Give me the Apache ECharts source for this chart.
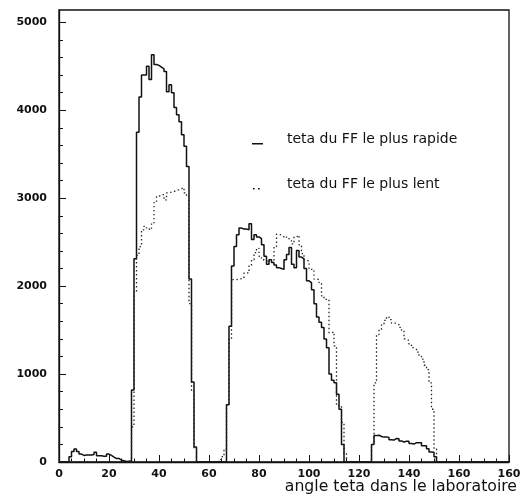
<!DOCTYPE html>
<html>
<head>
<meta charset="utf-8">
<script src="https://cdn.jsdelivr.net/npm/echarts@6/dist/echarts.min.js"></script>
<style>html,body{margin:0;padding:0;background:#fff}#c{width:526px;height:497px}</style>
</head>
<body>
<div id="c"></div>
<script>
// Histogram bins: 1 degree wide, bin i covers [i, i+1)
const binWidth = 1;
// "teta du FF le plus rapide" (solid)
const fastCounts = [
  0,0,0,0,60,120,147,120,90,75, 80,80,80,85,110,70,70,65,65,90,
  75,55,40,40,20,15,5,10,15,820, 2310,3750,4150,4400,4400,4500,4350,4630,4520,4510,
  4490,4470,4440,4210,4290,4200,4030,3950,3870,3720, 3590,3360,2080,910,170,0,0,0,0,0,
  0,0,0,0,0,0,0,650,1545,2230, 2450,2585,2660,2650,2650,2640,2710,2530,2585,2560,
  2540,2470,2340,2250,2300,2270,2240,2210,2200,2190, 2300,2360,2440,2250,2210,2405,2330,2310,2200,2060,
  2040,1960,1800,1650,1590,1530,1400,1300,1000,930, 900,770,600,200,0,0,0,0,0,0,
  0,0,0,0,0,200,300,305,290,283, 283,280,253,250,268,265,240,227,236,236,
  210,204,220,218,220,185,185,150,113,110, 60,0,0,0,0,0,0,0,0,0,
  0,0,0,0,0,0,0,0,0,0, 0,0,0,0,0,0,0,0,0,0
];
// "teta du FF le plus lent" (dotted)
const slowCounts = [
  0,0,0,0,0,0,0,0,0,0, 0,0,0,0,0,0,0,0,0,0,
  0,0,0,0,0,0,0,0,0,400, 1930,2350,2450,2640,2680,2650,2640,2720,2950,3020,
  3040,3040,2980,3060,3070,3075,3090,3095,3110,3120, 3060,3020,1800,800,150,0,0,0,0,0,
  0,0,0,0,30,60,150,650,1400,2075, 2075,2080,2085,2090,2150,2150,2230,2300,2380,2430,
  2340,2300,2280,2300,2270,2280,2450,2590,2580,2560, 2570,2540,2530,2480,2560,2580,2470,2370,2300,2280,
  2190,2190,2080,2075,2040,1890,1850,1850,1470,1480, 1320,640,640,450,100,0,0,0,0,0,
  0,0,0,0,0,200,900,1450,1500,1560, 1610,1650,1620,1580,1580,1560,1530,1500,1400,1380,
  1330,1300,1280,1250,1200,1170,1100,1050,900,600, 150,0,0,0,0,0,0,0,0,0,
  0,0,0,0,0,0,0,0,0,0, 0,0,0,0,0,0,0,0,0,0
];
const seriesNames = ['teta du FF le plus rapide', 'teta du FF le plus lent'];
const xTitle = 'angle teta dans le laboratoire';
const yMajorTicks = [0, 1000, 2000, 3000, 4000, 5000];
const yMinorTicks = [200,400,600,800,1200,1400,1600,1800,2200,2400,2600,2800,3200,3400,3600,3800,4200,4400,4600,4800];
const xLabelText = {180: '160'}; // last label as printed in the original

function toSteps(counts) {
  const pts = counts.map((v, i) => [i * binWidth, v]);
  pts.push([counts.length * binWidth, 0]);
  return pts;
}

const ink = '#111';
const tickFont = {fontFamily: 'DejaVu Sans', fontWeight: 'bold', fontSize: 11, color: ink};

const chart = echarts.init(document.getElementById('c'), null, {renderer: 'canvas'});
chart.setOption({
  animation: false,
  backgroundColor: '#fff',
  title: {
    text: xTitle, right: 4, top: 474, padding: 5,
    textStyle: {fontFamily: 'DejaVu Sans', fontSize: 15.7, fontWeight: 'normal', color: ink}
  },
  grid: {left: 59, right: 17, top: 10, bottom: 35, containLabel: false, outerBoundsMode: 'none',
         show: true, borderColor: ink, borderWidth: 1.3, backgroundColor: 'transparent'},
  legend: {
    orient: 'vertical', left: 247, top: 127, itemGap: 31,
    itemWidth: 30, itemHeight: 11,
    textStyle: {fontFamily: 'DejaVu Sans', fontSize: 14, color: ink},
    data: [
      {name: seriesNames[0], icon: 'path://M0,0L0.01,0L0.01,0.01ZM29.99,0L30,0L30,0.01ZM0,9.5L11,9.5L11,11L0,11Z', itemStyle: {color: ink}},
      {name: seriesNames[1], icon: 'path://M0,0L0.01,0L0.01,0.01ZM29.99,0L30,0L30,0.01ZM1,9.5L2.6,9.5L2.6,11L1,11ZM6,9.5L7.6,9.5L7.6,11L6,11Z', itemStyle: {color: ink}}
    ]
  },
  xAxis: [{
    type: 'value', min: 0, max: 180, interval: 20, position: 'bottom',
    axisLine: {show: true, lineStyle: {color: ink, width: 1.3}},
    axisTick: {show: true, inside: true, length: 7, lineStyle: {color: ink, width: 1}},
    minorTick: {show: true, splitNumber: 4, length: 3.5, lineStyle: {color: ink, width: 1}},
    splitLine: {show: false},
    axisLabel: Object.assign({margin: 7, formatter: v => (xLabelText[v] !== undefined ? xLabelText[v] : String(v)), showMaxLabel: true, showMinLabel: true}, tickFont)
  }],
  yAxis: [{
    type: 'value', min: 0, max: 5140, position: 'left',
    axisLine: {show: true, lineStyle: {color: ink, width: 1.3}},
    axisTick: {show: true, inside: true, length: 7, customValues: yMajorTicks, lineStyle: {color: ink, width: 1}},
    axisLabel: Object.assign({margin: 12, customValues: yMajorTicks, formatter: v => String(v)}, tickFont),
    splitLine: {show: false}
  }, {
    type: 'value', min: 0, max: 5140, position: 'left',
    axisLine: {show: false},
    axisTick: {show: true, inside: true, length: 4, customValues: yMinorTicks, lineStyle: {color: ink, width: 1}},
    axisLabel: {show: false},
    splitLine: {show: false}
  }],
  series: [{
    name: seriesNames[0], type: 'line', step: 'end', data: toSteps(fastCounts),
    showSymbol: false, symbol: 'none', clip: true,
    itemStyle: {color: ink},
    lineStyle: {color: ink, width: 1.5, type: 'solid'}
  }, {
    name: seriesNames[1], type: 'line', step: 'end', data: toSteps(slowCounts),
    showSymbol: false, symbol: 'none', clip: true,
    itemStyle: {color: ink},
    lineStyle: {color: '#222', width: 1.3, type: [1.4, 2.6]}
  }]
});
</script>
</body>
</html>
